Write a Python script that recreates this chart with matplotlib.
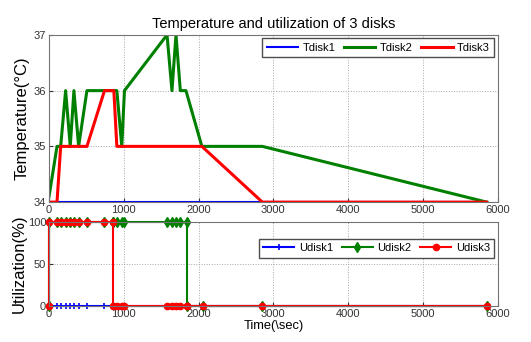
import numpy as np
import matplotlib.pyplot as plt

plt.rcParams['font.family'] = ['Liberation Sans', 'DejaVu Sans']

# temperature samples (sec, degC)
t_time = [0, 107, 156, 222, 284, 333, 396, 507, 742, 867, 907, 973, 1009,
          1578, 1644, 1698, 1756, 1831, 2044, 2853, 5853]
tdisk1 = [34, 34, 34, 34, 34, 34, 34, 34, 34, 34, 34, 34, 34,
          34, 34, 34, 34, 34, 34, 34, 34]
tdisk2 = [34.1, 35, 35, 36, 35, 36, 35, 36, 36, 36, 36, 35, 36,
          37, 36, 37, 36, 36, 35, 35, 34]
tdisk3 = [34, 34, 35, 35, 35, 35, 35, 35, 36, 36, 35, 35, 35,
          35, 35, 35, 35, 35, 35, 34, 34]

# utilization samples (sec, %)
u_time = [0, 0, 107, 156, 222, 284, 333, 396, 507, 742, 860, 860, 907, 973,
          1009, 1578, 1644, 1698, 1756, 1845, 1845, 2060, 2853, 5853]
udisk1 = [0] * 24
udisk2 = [0, 100, 100, 100, 100, 100, 100, 100, 100, 100, 100, 100, 100, 100,
          100, 100, 100, 100, 100, 100, 0, 0, 0, 0]
udisk3 = [0, 100, 100, 100, 100, 100, 100, 100, 100, 100, 100, 0, 0, 0,
          0, 0, 0, 0, 0, 0, 0, 0, 0, 0]

blue = (0, 0, 1)
green = (0, 0.5, 0)
red = (1, 0, 0)

fig = plt.figure(figsize=(5.31, 3.42), dpi=100)
ax1 = fig.add_axes([0.0923, 0.409, 0.845, 0.489])
ax2 = fig.add_axes([0.0923, 0.105, 0.845, 0.246])

ax1.plot(t_time, tdisk1, color=blue, lw=1.5, label='Tdisk1')
ax1.plot(t_time, tdisk2, color=green, lw=2.2, label='Tdisk2')
ax1.plot(t_time, tdisk3, color=red, lw=2.2, label='Tdisk3')
ax1.set_xlim(0, 6000)
ax1.set_ylim(34, 37)
ax1.set_yticks([34, 35, 36, 37])
ax1.set_xticks(range(0, 6001, 1000))
ax1.set_ylabel('Temperature(°C)', fontsize=12, labelpad=3)
ax1.set_title('Temperature and utilization of 3 disks', fontsize=10.5, pad=5)
ax1.legend(loc='upper right', ncol=3, fontsize=8, handlelength=2.8,
           fancybox=False, edgecolor='0.3', framealpha=1,
           borderaxespad=0.3, columnspacing=0.8, handletextpad=0.4)

ax2.plot(u_time, udisk1, color=blue, lw=1.5, marker='+', ms=5, mew=1.2,
         label='Udisk1', clip_on=False)
ax2.plot(u_time, udisk2, color=green, lw=1.5, marker='d', ms=5.5,
         label='Udisk2', clip_on=False)
ax2.plot(u_time, udisk3, color=red, lw=1.5, marker='o', ms=4.5,
         label='Udisk3', clip_on=False)
ax2.set_xlim(0, 6000)
ax2.set_ylim(0, 100)
ax2.set_yticks([0, 50, 100])
ax2.set_xticks(range(0, 6001, 1000))
ax2.set_ylabel('Utilization(%)', fontsize=12, labelpad=1)
ax2.set_xlabel('Time(\\sec)', fontsize=9.3, labelpad=1)
ax2.legend(loc='upper right', bbox_to_anchor=(1.0, 0.84), ncol=3, fontsize=8,
           handlelength=2.8, fancybox=False, edgecolor='0.3', framealpha=1,
           borderaxespad=0.3, columnspacing=0.8, handletextpad=0.4)

for ax in (ax1, ax2):
    ax.grid(True, linestyle=':', color='0.65', lw=0.7)
    ax.tick_params(labelsize=8, direction='in', length=3, pad=2,
                   colors='0.2')
    for s in ax.spines.values():
        s.set_color('0.45')
        s.set_linewidth(0.8)

fig.savefig('out.png', dpi=100)
